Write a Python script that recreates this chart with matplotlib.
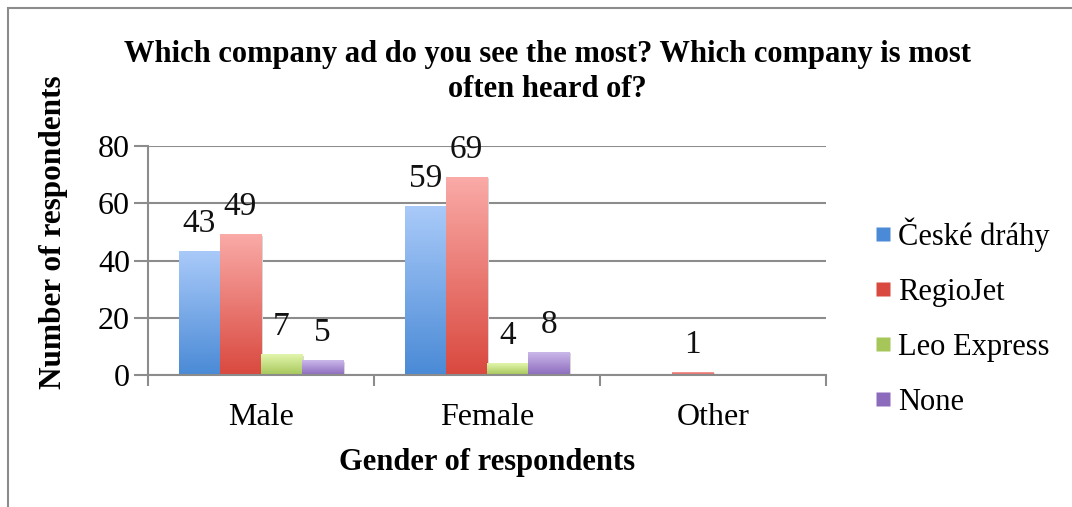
import numpy as np
import matplotlib
matplotlib.use("Agg")
import matplotlib.pyplot as plt
from matplotlib.lines import Line2D
from matplotlib.colors import LinearSegmentedColormap

categories = ["Male", "Female", "Other"]
series_names = ["České dráhy", "RegioJet", "Leo Express", "None"]
ceske_drahy = [43, 59, 0]
regiojet = [49, 69, 1]
leo_express = [7, 4, 0]
none_ = [5, 8, 0]
values = [ceske_drahy, regiojet, leo_express, none_]
yticks = [0, 20, 40, 60, 80]

# (bottom colour, top colour) for each series gradient
grad = [("#4a8ad6", "#a9caf9"),
        ("#d9493f", "#faaaa7"),
        ("#a6c65a", "#e2f6ac"),
        ("#8c6bbd", "#cbb8ea")]

plt.rcParams["font.family"] = ["Liberation Serif", "DejaVu Serif"]

fig = plt.figure(figsize=(10.72, 5.07), dpi=100)
fig.patch.set_facecolor("white")

# outer chart frame
frame = plt.Rectangle((8 / 1072, -0.1), 1.2, 1 - 8 / 507 + 0.1, transform=fig.transFigure,
                      fill=False, edgecolor="#8c8c8c", linewidth=1.5)
fig.add_artist(frame)

ax = fig.add_axes([148 / 1072, 1 - 375 / 507, (826 - 148) / 1072, (375 - 146) / 507])

n = len(series_names)
gap = 1.5
bw = 1 / (n + gap)
x = np.arange(len(categories))

for i, (name, vals) in enumerate(zip(series_names, values)):
    pos = x - 0.5 + (gap / 2) * bw + (i + 0.5) * bw
    cmap = LinearSegmentedColormap.from_list(name, [grad[i][0], grad[i][1]])
    bars = ax.bar(pos, vals, width=bw, color=grad[i][0], edgecolor="none", zorder=2)
    for b, v in zip(bars, vals):
        if v <= 0:
            continue
        x0, w = b.get_x(), b.get_width()
        # soft drop shadow
        ax.add_patch(plt.Rectangle((x0 + 0.008, 0), w, v - 0.3, color="#d8d8d8",
                                   zorder=1.5, linewidth=0))
        grd = np.linspace(0, 1, 128).reshape(-1, 1)
        ax.imshow(grd, cmap=cmap, extent=[x0, x0 + w, 0, v], origin="lower",
                  aspect="auto", zorder=2.5, interpolation="bicubic")
        ax.text(b.get_x() + w / 2, v + 4.4, f"{v}", ha="center", va="bottom",
                fontsize=24, color="#111111", zorder=4)

ax.set_xlim(-0.5, len(categories) - 0.5)
ax.set_ylim(0, 80)
ax.set_yticks(yticks)
ax.set_yticklabels([str(t) for t in yticks], fontsize=23)
ax.set_xticks(x)
ax.set_xticklabels(categories, fontsize=23)
ax.set_xticks(np.arange(len(categories) + 1) - 0.5, minor=True)
ax.tick_params(axis="x", which="major", length=0, pad=20)
ax.tick_params(axis="x", which="minor", length=8, width=1.5, color="#8c8c8c", direction="out")
ax.tick_params(axis="y", length=10, width=1.5, color="#8c8c8c", direction="out", pad=3)
ax.yaxis.grid(True, color="#8c8c8c", linewidth=1.5, zorder=0)
ax.set_axisbelow(True)
for s in ["top", "right"]:
    ax.spines[s].set_visible(False)
for s in ["left", "bottom"]:
    ax.spines[s].set_color("#8c8c8c")
    ax.spines[s].set_linewidth(1.5)

ax.set_ylabel("Number of respondents", fontsize=22.5, fontweight="bold")
ax.yaxis.set_label_coords(-0.118, 0.625)
ax.set_xlabel("Gender of respondents", fontsize=22, fontweight="bold", labelpad=12)

fig.text(547 / 1072, 1 - 72 / 507,
         "Which company ad do you see the most? Which company is most\noften heard of?",
         ha="center", va="center", fontsize=22, fontweight="bold", linespacing=1.3)

handles = [Line2D([0], [0], marker="s", linestyle="none", markersize=10,
                  markerfacecolor=grad[i][0], markeredgecolor="none")
           for i in range(n)]
fig.legend(handles, series_names, loc="center left",
           bbox_to_anchor=(843 / 1072, 1 - 317 / 507), frameon=False,
           fontsize=22, handletextpad=0.1, labelspacing=0.85, handlelength=0.8)

fig.savefig("out.png", dpi=100, facecolor="white")
